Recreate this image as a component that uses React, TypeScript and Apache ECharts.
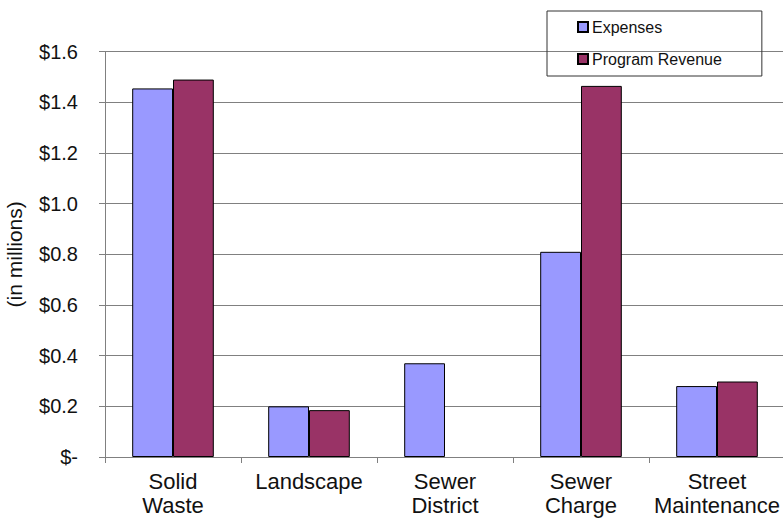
import React, { useEffect, useRef } from "react";
import * as echarts from "echarts";

const categories = ["Solid\nWaste", "Landscape", "Sewer\nDistrict", "Sewer\nCharge", "Street\nMaintenance"];
const expenses = [1.455, 0.2, 0.37, 0.81, 0.28];
// Sewer District reports no program revenue
const programRevenue: (number | null)[] = [1.49, 0.185, null, 1.465, 0.298];

const FONT = "Liberation Sans, Arial, sans-serif";

export default function App() {
  const ref = useRef<HTMLDivElement>(null);

  useEffect(() => {
    if (!ref.current) return;
    const chart = echarts.init(ref.current, null, { renderer: "svg" });
    chart.setOption({
      animation: false,
      backgroundColor: "#ffffff",
      textStyle: { fontFamily: FONT },
      grid: { left: 105, right: -2, top: 51.7, bottom: 61, containLabel: false, outerBoundsMode: "none" },
      legend: {
        orient: "vertical",
        left: 547,
        top: 11,
        padding: [8, 40, 9, 30],
        itemGap: 16,
        itemWidth: 10,
        itemHeight: 10,
        icon: "rect",
        borderColor: "#333",
        borderWidth: 1,
        textStyle: { fontFamily: FONT, fontSize: 16, color: "#111", padding: [0, 0, 0, -1] },
        data: ["Expenses", "Program Revenue"],
      },
      xAxis: {
        type: "category",
        data: categories,
        axisLine: { show: true, lineStyle: { color: "#808080", width: 1 } },
        axisTick: { show: true, length: 6, lineStyle: { color: "#808080" } },
        axisLabel: {
          color: "#111",
          fontFamily: FONT,
          fontSize: 22,
          lineHeight: 24,
          margin: 12,
          interval: 0,
        },
      },
      yAxis: {
        type: "value",
        min: 0,
        max: 1.6,
        interval: 0.2,
        name: "(in millions)",
        nameLocation: "middle",
        nameRotate: 90,
        nameGap: 80,
        nameTextStyle: { fontFamily: FONT, fontSize: 21, color: "#111" },
        axisLine: { show: true, lineStyle: { color: "#808080", width: 1 } },
        axisTick: { show: true, length: 6, lineStyle: { color: "#808080" } },
        axisLabel: {
          color: "#111",
          fontFamily: FONT,
          fontSize: 20,
          margin: 27,
          formatter: (v: number) => (v === 0 ? "$-" : "$" + v.toFixed(1)),
        },
        splitLine: { show: true, lineStyle: { color: "#808080", width: 1 } },
      },
      series: [
        {
          name: "Expenses",
          type: "bar",
          data: expenses,
          barGap: "0%",
          barCategoryGap: "40%",
          itemStyle: { color: "#9999ff", borderColor: "#000", borderWidth: 1 },
        },
        {
          name: "Program Revenue",
          type: "bar",
          data: programRevenue,
          barGap: "0%",
          barCategoryGap: "40%",
          itemStyle: { color: "#993366", borderColor: "#000", borderWidth: 1 },
        },
      ],
    });
    return () => chart.dispose();
  }, []);

  return (
    <div
      ref={ref}
      style={{ position: "fixed", left: 0, top: 0, width: 783, height: 518 }}
    />
  );
}
